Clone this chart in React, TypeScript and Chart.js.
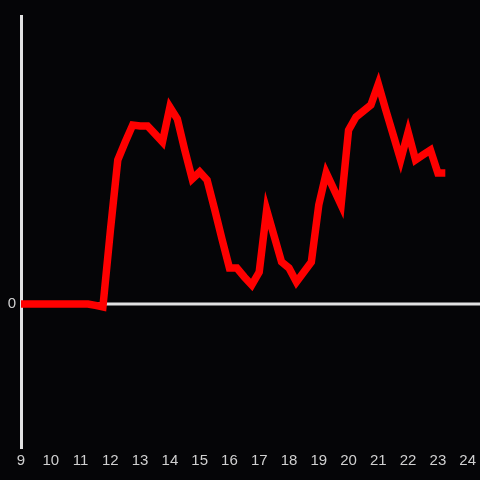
import { useEffect, useRef } from "react";
import { Chart, registerables } from "chart.js";

Chart.register(...registerables);

const times = [
  9, 9.25, 9.5, 9.75, 10, 10.25, 10.5, 10.75, 11, 11.25, 11.5, 11.75,
  12, 12.25, 12.5, 12.75, 13, 13.25, 13.5, 13.75, 14, 14.25, 14.5, 14.75,
  15, 15.25, 15.5, 15.75, 16, 16.25, 16.5, 16.75, 17, 17.25, 17.5, 17.75,
  18, 18.25, 18.5, 18.75, 19, 19.25, 19.5, 19.75, 20, 20.25, 20.5, 20.75,
  21, 21.25, 21.5, 21.75, 22, 22.25, 22.5, 22.75, 23, 23.25,
];

const values = [
  0, 0, 0, 0, 0, 0, 0, 0, 0, 0, -1, -2.1,
  50.7, 100, 112.5, 124.3, 123.6, 123.6, 118.1, 112.5, 136.8, 128.5, 106.9, 86.8,
  91.7, 86.1, 66, 45.1, 25, 25, 18.8, 13.2, 22.2, 65.3, 47.2, 29.2,
  25, 15.3, 22.2, 29.2, 68.8, 91, 79.9, 68.8, 120.8, 129.9, 134, 138.2,
  152.8, 134.7, 117.4, 100, 119.4, 100, 103.5, 106.9, 91, 91,
];

const xTickLabels = ["9", "10", "11", "12", "13", "14", "15", "16", "17", "18", "19", "20", "21", "22", "23", "24"];
const yTickLabels = ["0"];

const bgPlugin = {
  id: "bg",
  beforeDraw(chart: any) {
    const { ctx, width, height } = chart;
    ctx.save();
    ctx.fillStyle = "#050507";
    ctx.fillRect(0, 0, width, height);
    ctx.restore();
  },
};

const zeroLinePlugin = {
  id: "zeroLine",
  beforeDatasetsDraw(chart: any) {
    const { ctx, chartArea, width } = chart;
    const y = chart.scales.y.getPixelForValue(0);
    ctx.save();
    ctx.strokeStyle = "#e2e2e2";
    ctx.lineWidth = 3;
    ctx.beginPath();
    ctx.moveTo(chartArea.left, y);
    ctx.lineTo(width, y);
    ctx.stroke();
    ctx.restore();
  },
};

export default function App() {
  const ref = useRef<HTMLCanvasElement | null>(null);

  useEffect(() => {
    document.body.style.margin = "0";
    document.body.style.background = "#050507";
    const canvas = ref.current;
    if (!canvas) return;
    const chart = new Chart(canvas, {
      type: "line",
      data: {
        datasets: [
          {
            data: times.map((t, i) => ({ x: t, y: values[i] })),
            borderColor: "#ff0000",
            borderWidth: 7.5,
            pointRadius: 0,
            tension: 0,
            fill: false,
          },
        ],
      },
      options: {
        animation: false,
        responsive: false,
        maintainAspectRatio: false,
        layout: { padding: { top: 16, right: 10, left: 0, bottom: 0 } },
        plugins: { legend: { display: false }, tooltip: { enabled: false } },
        scales: {
          x: {
            type: "linear",
            min: 9,
            max: 24,
            grid: { display: false, drawTicks: false },
            border: { display: false },
            afterBuildTicks(scale: any) {
              scale.ticks = xTickLabels.map((l) => ({ value: Number(l) }));
            },
            afterFit(scale: any) {
              scale.height = 32;
            },
            ticks: {
              color: "#d0d0d0",
              font: { size: 15, family: "'Liberation Sans', Arial, sans-serif" },
              padding: 4,
              maxRotation: 0,
              autoSkip: false,
              callback: (v: any) => String(v),
            },
          },
          y: {
            type: "linear",
            min: -100,
            max: 200,
            grid: { display: false, drawTicks: false },
            border: { display: true, color: "#e2e2e2", width: 3 },
            afterBuildTicks(scale: any) {
              scale.ticks = yTickLabels.map((l) => ({ value: Number(l) }));
            },
            afterFit(scale: any) {
              scale.width = 21;
            },
            ticks: {
              color: "#d0d0d0",
              font: { size: 15, family: "'Liberation Sans', Arial, sans-serif" },
              padding: 5,
              callback: (v: any) => String(v),
            },
          },
        },
      },
      plugins: [bgPlugin, zeroLinePlugin],
    });
    return () => chart.destroy();
  }, []);

  return (
    <div style={{ width: 480, height: 480, background: "#050507" }}>
      <canvas ref={ref} width={480} height={480} style={{ display: "block" }} />
    </div>
  );
}
